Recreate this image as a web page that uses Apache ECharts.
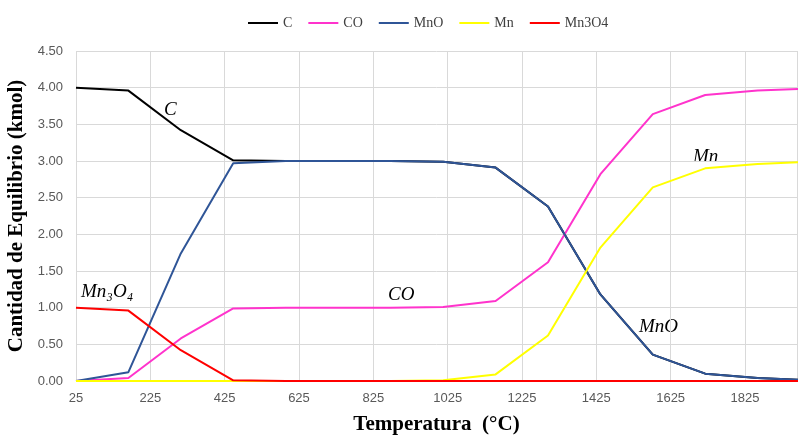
<!DOCTYPE html>
<html><head><meta charset="utf-8">
<script src="https://cdn.jsdelivr.net/npm/echarts@6/dist/echarts.min.js"></script>
<style>html,body{margin:0;padding:0;background:#fff}#c{width:799px;height:436px}</style>
</head><body><div id="c"></div>
<script>
const temps = [25,166,307,448,589,730,871,1013,1154,1295,1436,1577,1718,1859,2000];
const C_vals = [4.00,3.96,3.42,3.01,3.00,3.00,3.00,2.99,2.91,2.38,1.18,0.36,0.10,0.04,0.01];
const CO_vals = [0.00,0.04,0.58,0.99,1.00,1.00,1.00,1.01,1.09,1.62,2.82,3.64,3.90,3.96,3.99];
const MnO_vals = [0.00,0.12,1.74,2.97,3.00,3.00,3.00,2.99,2.91,2.38,1.18,0.36,0.10,0.04,0.01];
const Mn_vals = [0.00,0.00,0.00,0.00,0.00,0.00,0.00,0.01,0.09,0.62,1.82,2.64,2.90,2.96,2.99];
const Mn3O4_vals = [1.00,0.96,0.42,0.01,0.00,0.00,0.00,0.00,0.00,0.00,0.00,0.00,0.00,0.00,0.00];
const seriesNames = ['C','CO','MnO','Mn','Mn3O4'];
const seriesColors = ['#000000','#ff33cc','#2f5597','#ffff00','#ff0000'];
const seriesData = [C_vals, CO_vals, MnO_vals, Mn_vals, Mn3O4_vals];

const chart = echarts.init(document.getElementById('c'));
const annoFont = 'italic 19px "Liberation Serif", "DejaVu Serif", serif';
chart.setOption({
  animation: false,
  backgroundColor: '#fff',
  legend: {
    top: 11, left: 243,
    itemWidth: 30, itemHeight: 2, itemGap: 16,
    icon: 'rect',
    textStyle: {fontFamily: '"Liberation Serif", serif', fontSize: 14, color: '#404040'},
    data: seriesNames
  },
  grid: {left: 76, right: 2, top: 51, bottom: 55, outerBoundsMode: 'none', containLabel: false},
  xAxis: {
    type: 'value', min: 25, max: 1965, interval: 200,
    name: 'Temperatura  (°C)', nameLocation: 'middle', nameGap: 33,
    nameTextStyle: {fontFamily: '"Liberation Serif", serif', fontWeight: 'bold', fontSize: 21, color: '#000'},
    axisLine: {show: false}, axisTick: {show: false},
    axisLabel: {color: '#595959', fontSize: 13, fontFamily: '"Liberation Sans", sans-serif', showMaxLabel: false, margin: 11, formatter: v => String(v)},
    splitLine: {show: true, lineStyle: {color: '#d9d9d9', width: 1}}
  },
  yAxis: {
    type: 'value', min: 0, max: 4.5, interval: 0.5,
    name: 'Cantidad de Equilibrio (kmol)', nameLocation: 'middle', nameGap: 46,
    nameTextStyle: {fontFamily: '"Liberation Serif", serif', fontWeight: 'bold', fontSize: 21, color: '#000'},
    axisLine: {show: false}, axisTick: {show: false},
    axisLabel: {color: '#595959', fontSize: 13, fontFamily: '"Liberation Sans", sans-serif', formatter: v => v.toFixed(2), margin: 13},
    splitLine: {show: true, lineStyle: {color: '#d9d9d9', width: 1}}
  },
  series: seriesNames.map((n, i) => ({
    name: n, type: 'line', showSymbol: false, symbol: 'none', clip: true,
    lineStyle: {color: seriesColors[i], width: 2},
    itemStyle: {color: seriesColors[i]},
    data: temps.map((t, k) => [t, seriesData[i][k]])
  })),
  graphic: [
    {type: 'text', left: 164, top: 100, style: {text: 'C', font: annoFont, fill: '#000'}},
    {type: 'text', left: 81, top: 282, style: {text: 'Mn\u2083O\u2084', font: annoFont, fill: '#000'}},
    {type: 'text', left: 388, top: 285, style: {text: 'CO', font: annoFont, fill: '#000'}},
    {type: 'text', left: 693, top: 147, style: {text: 'Mn', font: annoFont, fill: '#000'}},
    {type: 'text', left: 639, top: 317, style: {text: 'MnO', font: annoFont, fill: '#000'}}
  ]
});
</script></body></html>
